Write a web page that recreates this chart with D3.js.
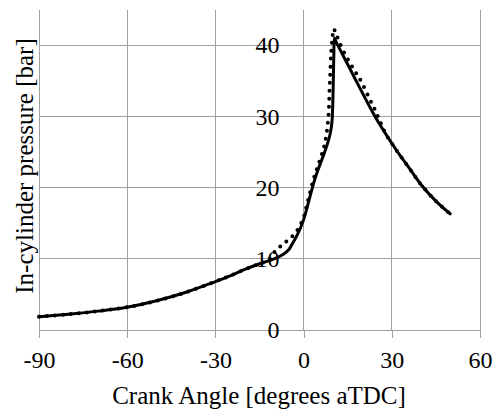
<!DOCTYPE html>
<html><head><meta charset="utf-8">
<script src="https://cdn.jsdelivr.net/npm/d3@7"></script>
<style>
body{margin:0;background:#fff;}
text{font-family:"Liberation Serif","Times New Roman",serif;fill:#000;}
</style></head>
<body><svg id="c" width="493" height="410"></svg>
<script>
const xTicks = [-90, -60, -30, 0, 30, 60];
const yTicks = [0, 10, 20, 30, 40];
const solidAngle = [-90, -80, -70, -60, -50, -40, -30, -25, -20, -15, -10, -7, -5, -4, -3, -2, -1, 0, 1, 2, 3, 4, 5, 6, 7, 8, 9, 9.6, 9.9, 10.1, 10.3, 10.5, 11, 12, 16, 20, 24, 28, 32, 36, 40, 45, 50.2];
const solidP     = [1.87, 2.2, 2.65, 3.2, 4.1, 5.3, 6.8, 7.6, 8.5, 9.3, 10.0, 10.6, 11.3, 12.0, 12.7, 13.5, 14.4, 15.5, 16.9, 18.5, 20.0, 21.4, 22.6, 23.7, 24.8, 26.0, 27.5, 29.0, 31.5, 35.0, 39.0, 41.0, 40.5, 39.7, 36.5, 33.3, 30.2, 27.5, 25.0, 22.7, 20.4, 18.1, 16.2];
const dotAngle = [-90, -80, -70, -60, -50, -40, -30, -25, -20, -15, -12, -10, -8, -6, -4, -2, 0, 1, 2, 3, 4, 5, 6, 7, 7.7, 8.3, 8.6, 8.8, 9.1, 9.4, 9.8, 10.2, 11, 12.2, 14, 16.2, 18, 19.6, 22.4, 24.1, 26, 28, 32, 36, 40, 45, 50.2];
const dotP     = [1.87, 2.2, 2.65, 3.2, 4.1, 5.3, 6.8, 7.6, 8.5, 9.3, 9.8, 10.9, 11.7, 12.4, 13.1, 14.1, 15.8, 17.4, 19.0, 20.6, 22.0, 23.2, 24.4, 25.8, 27.3, 29.3, 31.0, 33.5, 36.5, 39.0, 41.0, 42.3, 41.6, 40.4, 38.8, 37.2, 36.0, 34.9, 32.5, 31.1, 29.3, 27.5, 25.0, 22.7, 20.4, 18.1, 16.2];

const svg = d3.select("#c");
const x = d3.scaleLinear().domain([-90, 60]).range([39, 480]);
const y = d3.scaleLinear().domain([0, 45]).range([330, 9.6]);
const gridC = "#a0a0a0";

svg.append("g").selectAll("line").data(xTicks).join("line")
  .attr("x1", d => x(d)).attr("x2", d => x(d)).attr("y1", y(45)).attr("y2", y(0))
  .attr("stroke", gridC).attr("stroke-width", 1).attr("shape-rendering","crispEdges");
svg.append("g").selectAll("line").data(yTicks).join("line")
  .attr("x1", x(-90)).attr("x2", x(60)).attr("y1", d => y(d)).attr("y2", d => y(d))
  .attr("stroke", gridC).attr("stroke-width", 1).attr("shape-rendering","crispEdges");

const xa = svg.append("g").attr("transform", `translate(0,${y(0)})`)
  .call(d3.axisBottom(x).tickValues(xTicks).tickSize(8).tickPadding(12.5));
xa.select(".domain").remove();
xa.selectAll("line").attr("stroke", gridC).attr("shape-rendering","crispEdges");
xa.selectAll("text").attr("font-size", 24).attr("font-family", "Liberation Serif").text(d => String(d));

const ya = svg.append("g").attr("transform", `translate(${x(0)},0)`)
  .call(d3.axisLeft(y).tickValues(yTicks).tickSize(0).tickPadding(24));
ya.select(".domain").remove();
ya.selectAll("text").attr("font-size", 24).attr("font-family", "Liberation Serif");

const line = d3.line().x(d => x(d[0])).y(d => y(d[1])).curve(d3.curveCatmullRom.alpha(0.5));

svg.append("path").datum(dotAngle.map((a, i) => [a, dotP[i]]))
  .attr("d", line).attr("fill", "none").attr("stroke", "#000")
  .attr("stroke-width", 4).attr("stroke-linecap", "round").attr("stroke-dasharray", "0 8");

svg.append("path").datum(solidAngle.map((a, i) => [a, solidP[i]]))
  .attr("d", line).attr("fill", "none").attr("stroke", "#000")
  .attr("stroke-width", 3).attr("stroke-linejoin", "round");

svg.append("text").attr("x", 259).attr("y", 404).attr("text-anchor", "middle")
  .attr("font-size", 25).text("Crank Angle [degrees aTDC]");
svg.append("text").attr("transform", "translate(33,166) rotate(-90)").attr("text-anchor", "middle")
  .attr("font-size", 25).text("In-cylinder pressure [bar]");
</script></body></html>
